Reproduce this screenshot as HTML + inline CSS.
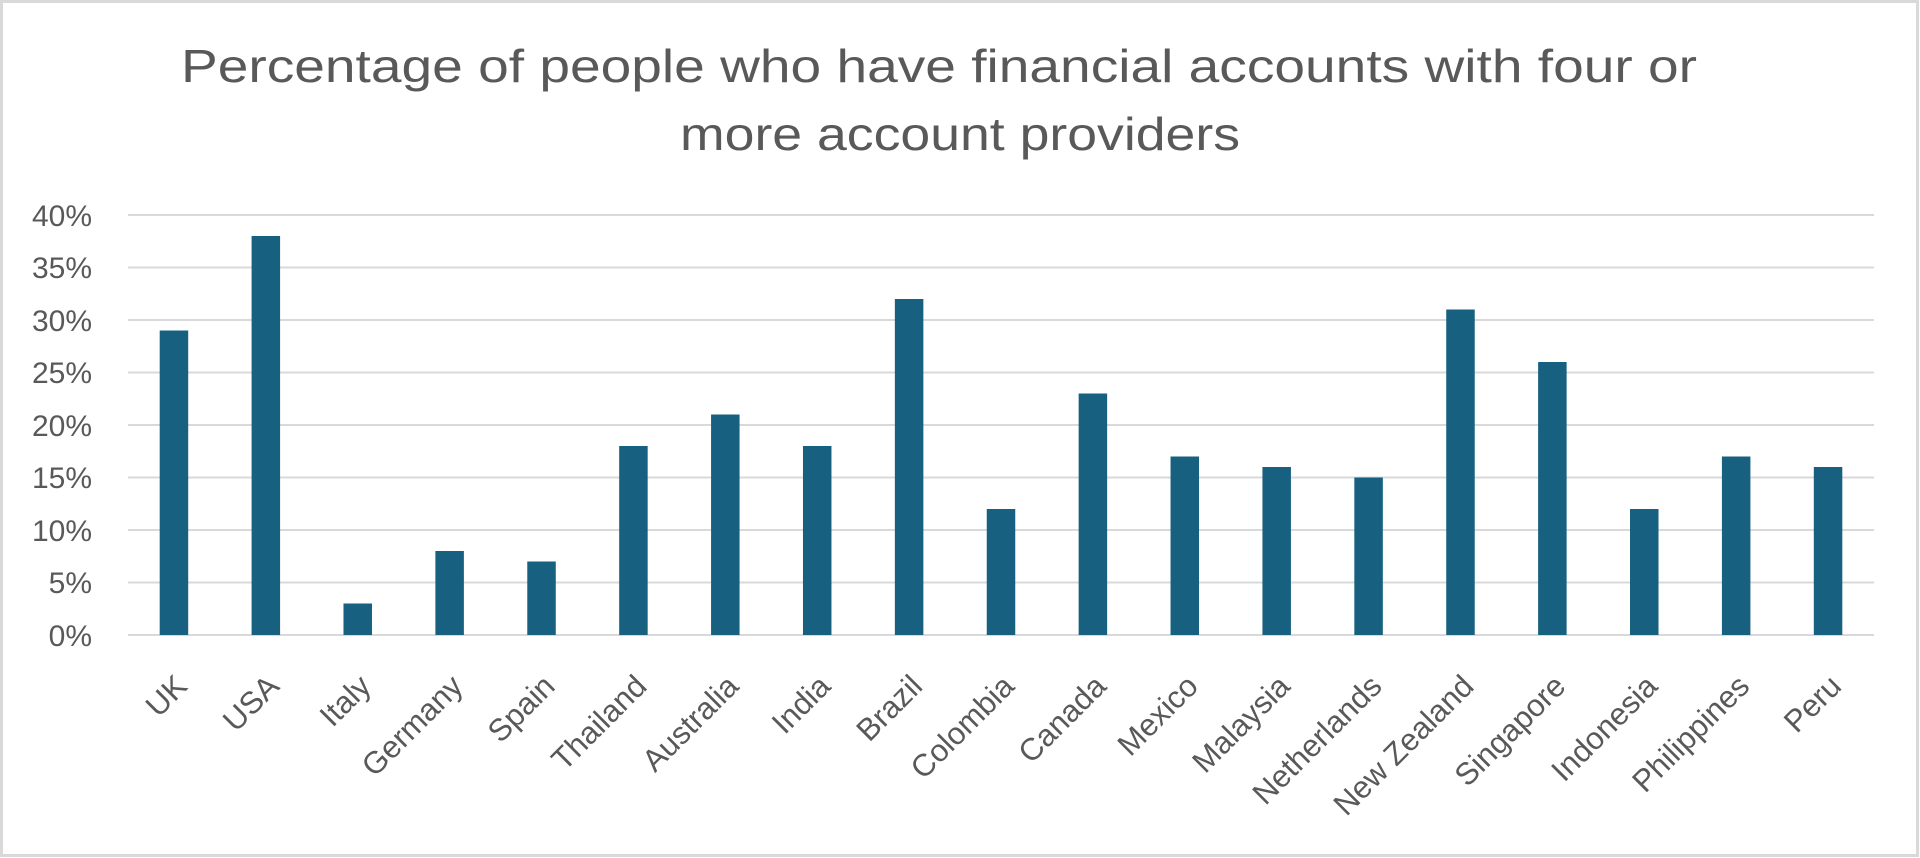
<!DOCTYPE html>
<html><head><meta charset="utf-8"><style>
html,body{margin:0;padding:0;background:#fff;}
svg{display:block;}
</style></head><body>
<svg width="1920" height="858" xmlns="http://www.w3.org/2000/svg" font-family="'Liberation Sans', sans-serif">
<rect x="1.5" y="1.5" width="1916" height="854" fill="#fff" stroke="#d9d9d9" stroke-width="3"/>
<g fill="#595959" font-size="46" text-anchor="middle">
<text x="939" y="82" textLength="1516" lengthAdjust="spacingAndGlyphs">Percentage of people who have financial accounts with four or</text>
<text x="960" y="150" textLength="560" lengthAdjust="spacingAndGlyphs">more account providers</text>
</g>
<g stroke="#d9d9d9" stroke-width="2">
<line x1="128" x2="1874" y1="215" y2="215"/>
<line x1="128" x2="1874" y1="267.5" y2="267.5"/>
<line x1="128" x2="1874" y1="320" y2="320"/>
<line x1="128" x2="1874" y1="372.5" y2="372.5"/>
<line x1="128" x2="1874" y1="425" y2="425"/>
<line x1="128" x2="1874" y1="477.5" y2="477.5"/>
<line x1="128" x2="1874" y1="530" y2="530"/>
<line x1="128" x2="1874" y1="582.5" y2="582.5"/>
<line x1="128" x2="1874" y1="635" y2="635"/>
</g>
<g fill="#595959" font-size="30" text-anchor="end">
<text x="92" y="226">40%</text>
<text x="92" y="278">35%</text>
<text x="92" y="331">30%</text>
<text x="92" y="383">25%</text>
<text x="92" y="436">20%</text>
<text x="92" y="488">15%</text>
<text x="92" y="541">10%</text>
<text x="92" y="593">5%</text>
<text x="92" y="646">0%</text>
</g>
<g id="bars" fill="#17607f"></g>
<g id="labels" fill="#595959" font-size="31" text-anchor="end"></g>
<script>
var names=["UK","USA","Italy","Germany","Spain","Thailand","Australia","India","Brazil","Colombia","Canada","Mexico","Malaysia","Netherlands","New Zealand","Singapore","Indonesia","Philippines","Peru"];
var vals=[29,38,3,8,7,18,21,18,32,12,23,17,16,15,31,26,12,17,16];
var ns="http://www.w3.org/2000/svg",b=document.getElementById("bars"),l=document.getElementById("labels");
var step=1746/19;
for(var i=0;i<19;i++){var cx=128+step*(i+0.5);var h=vals[i]*10.5;
var r=document.createElementNS(ns,"rect");r.setAttribute("x",cx-14.25);r.setAttribute("width",28.5);r.setAttribute("y",635-h);r.setAttribute("height",h);b.appendChild(r);
var t=document.createElementNS(ns,"text");var x=cx+15,y=688;t.setAttribute("x",x);t.setAttribute("y",y);t.setAttribute("transform","rotate(-45 "+x+" "+y+")");t.textContent=names[i];l.appendChild(t);}
</script>
</svg>
</body></html>
